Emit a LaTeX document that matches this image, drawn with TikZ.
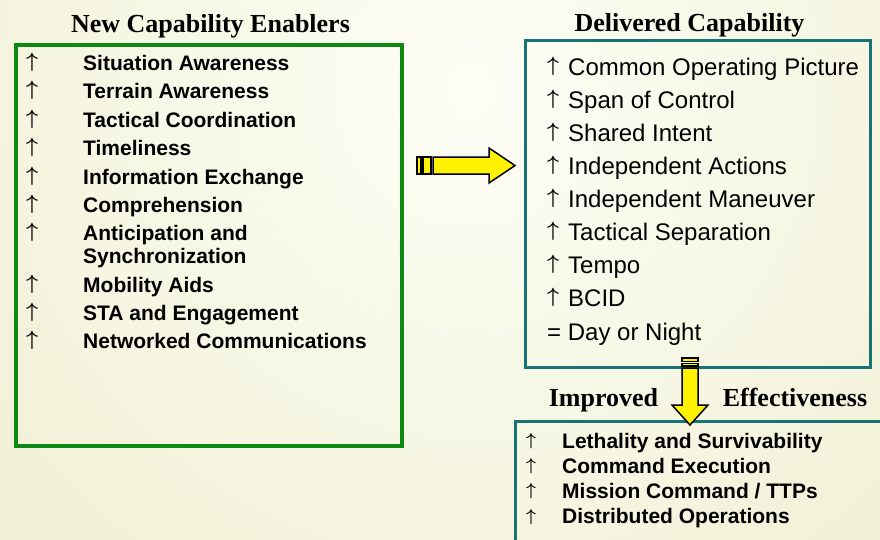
\documentclass[tikz,border=0pt]{standalone}
\usepackage{fontspec}
\setmainfont{Liberation Serif}
\setsansfont{Liberation Sans}
\usepackage{amsmath}
\usepackage{tikz}

\definecolor{boxgreen}{HTML}{0E8A14}
\definecolor{boxteal}{HTML}{187474}
\definecolor{cream}{HTML}{EEEECE}
\definecolor{paper}{HTML}{FDFDF6}

\begin{document}
\begin{tikzpicture}[x=1pt, y=-1pt,
        title/.style={font=\fontsize{26}{26}\selectfont\bfseries, inner sep=0, anchor=base},
        enabler/.style={font=\sffamily\fontsize{21}{21}\selectfont\bfseries, inner sep=0, anchor=base west},
        capab/.style={font=\sffamily\fontsize{24}{24}\selectfont, inner sep=0, anchor=base west},
        up/.style={inner sep=0, anchor=center},
        blockarrow/.style={fill=yellow, draw=black, line width=1.5pt, line join=miter}]
        \clip (0,0) rectangle (880,539);
        \fill[cream] (0,0) rectangle (880,539);
        \shade[inner color=paper, outer color=cream] (470,90) circle[radius=800];

        % boxes
        \node[draw=boxgreen, line width=3.5pt, minimum width=386pt, minimum height=401pt, inner sep=0] (enablers) at (209,245.5) {};
        \node[draw=boxteal, line width=3pt, minimum width=345pt, minimum height=327pt, inner sep=0] (delivered) at (697.5,203.5) {};
        \node[draw=boxteal, line width=3pt, minimum width=385pt, minimum height=139pt, inner sep=0] (improved) at (708,490.5) {};

        % titles
        \node[title] (entitle) at (210.5,32) {New Capability Enablers};
        \node[title] (captitle) at (689.5,31) {Delivered Capability};
        \node[title] (imptitle) at (603.5,406) {Improved};
        \node[title] (efftitle) at (795,406) {Effectiveness};

        % enablers
        \foreach \y/\txt [count=\i] in {70/Situation Awareness, 98/Terrain Awareness, 127/Tactical Coordination, 155/Timeliness, 184/Information Exchange, 212/Comprehension, 240/Anticipation and, 292/Mobility Aids, 320/STA and Engagement, 348/Networked Communications}{
            \node[up, font=\fontsize{20}{20}\selectfont] (enup\i) at (32,\y-8) {$\boldsymbol{\uparrow}$};
            \node[enabler] (en\i) at (83,\y) {\txt};
        }
        \node[enabler] (en7b) at (83,263) {Synchronization};

        % delivered capability
        \foreach \txt [count=\i from 0] in {Common Operating Picture, Span of Control, Shared Intent, Independent Actions, Independent Maneuver, Tactical Separation, Tempo, BCID}{
            \node[up, font=\fontsize{20}{20}\selectfont] (capup\i) at (553,75+33.1*\i-9) {$\boldsymbol{\uparrow}$};
            \node[capab] (cap\i) at (568,75+33.1*\i) {\txt};
        }
        \node[capab] (cap8) at (547,340) {= Day or Night};

        % improved effectiveness
        \foreach \txt [count=\i from 0] in {Lethality and Survivability, Command Execution, Mission Command / TTPs, Distributed Operations}{
            \node[up, font=\fontsize{17}{17}\selectfont] (effup\i) at (531,448+25.3*\i-7) {$\boldsymbol{\uparrow}$};
            \node[enabler] (eff\i) at (562,448+25.3*\i) {\txt};
        }

        % striped arrows
        \draw[blockarrow] (417,157) rectangle (421,174);
        \draw[blockarrow] (423,157) rectangle (431,174);
        \draw[blockarrow] (433,157) -- (489,157) -- (489,148) -- (515,165.5) -- (489,183) -- (489,174) -- (433,174) -- cycle;

        \draw[blockarrow] (682,358) rectangle (698,361.5);
        \draw[blockarrow] (682,363.5) rectangle (698,366);
        \draw[blockarrow] (682,368) -- (682,405) -- (672,405) -- (690,425) -- (708,405) -- (698,405) -- (698,368) -- cycle;
    \end{tikzpicture}
\end{document}
